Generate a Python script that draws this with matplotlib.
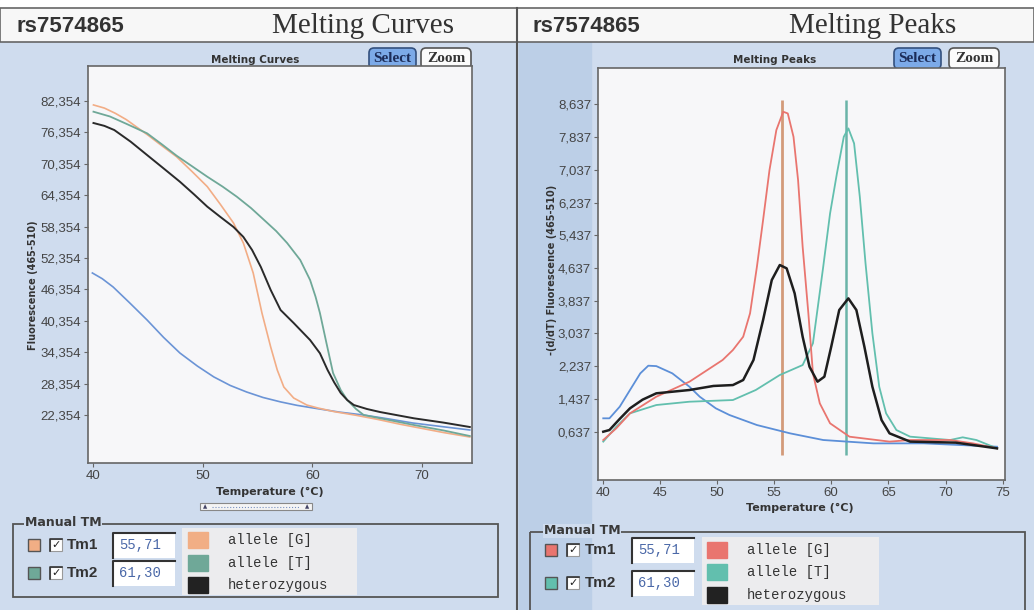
import matplotlib.pyplot as plt
from matplotlib.patches import Rectangle, FancyBboxPatch

W, H = 1034, 610

# ---- melting curves (left) ----
g_t = [40.0, 41.0, 42.0, 43.0, 44.0, 45.0, 46.0, 47.6, 49.0, 50.4, 51.6, 52.8, 53.7, 54.6, 55.4, 56.2, 56.8, 57.4, 58.3, 59.5, 60.5, 62.0, 64.0, 66.0, 68.0, 70.0, 72.0, 74.4]
g_v = [81600, 81000, 80000, 78800, 77300, 75800, 74200, 71700, 68900, 66000, 62600, 59040, 55220, 49490, 41840, 35340, 30950, 27700, 25600, 24260, 23700, 23000, 22300, 21500, 20600, 19800, 19000, 18150]

t_t = [40.0, 41.5, 43.0, 44.9, 46.3, 47.6, 49.0, 50.4, 51.8, 53.1, 54.4, 55.6, 56.7, 57.7, 58.9, 59.8, 60.3, 60.7, 61.3, 61.9, 62.6, 63.2, 64.0, 64.7, 67.0, 69.3, 72.0, 74.4]
t_v = [80310, 79400, 78000, 76180, 74000, 71900, 69900, 67890, 66000, 64070, 61900, 59610, 57500, 55220, 51970, 48150, 44950, 41840, 36060, 30380, 27130, 25220, 23500, 22354, 21400, 20440, 19400, 18340]

het_t = [40.0, 41.0, 41.9, 43.4, 44.9, 46.4, 47.9, 49.2, 50.4, 51.6, 52.8, 53.7, 54.5, 55.3, 56.2, 57.1, 58.3, 59.8, 60.7, 61.4, 62.0, 62.6, 63.2, 63.8, 65.0, 66.2, 69.3, 72.0, 74.4]
het_v = [78150, 77600, 76810, 74580, 72030, 69490, 66930, 64500, 62170, 60200, 58280, 56380, 53880, 50630, 46240, 42420, 39930, 36680, 34150, 30950, 28600, 26560, 25200, 24260, 23500, 22920, 21720, 20900, 20060]

blank_t = [39.9, 40.8, 41.8, 43.3, 44.9, 46.4, 47.9, 49.5, 51.0, 52.5, 54.0, 55.5, 57.1, 58.6, 60.1, 62.5, 64.7, 67.0, 69.2, 72.0, 74.4]
blank_v = [49490, 48400, 46810, 43800, 40510, 37200, 34200, 31700, 29630, 28000, 26750, 25700, 24860, 24200, 23690, 22900, 22350, 21600, 20820, 20100, 19490]

curve_yticks = [22354 + 6000 * k for k in range(11)]
curve_xticks = [40, 50, 60, 70]

# ---- melting peaks (right) ----
pg_t = [40.06, 41.2, 42.4, 44.7, 47.6, 50.5, 51.4, 52.3, 52.9, 53.5, 54.04, 54.6, 55.2, 55.8, 56.2, 56.7, 57.1, 57.5, 58.0, 58.4, 59.0, 59.9, 61.6, 65.1, 66.9, 70.4, 72.4, 74.5]
pg_v = [434, 720, 1086, 1492, 1859, 2389, 2633, 2958, 3530, 4668, 5809, 7030, 8007, 8455, 8414, 7844, 6786, 5157, 3530, 2063, 1330, 842, 515, 395, 434, 434, 352, 230]

pt_t = [40.06, 41.2, 42.4, 44.7, 47.6, 51.4, 53.4, 55.5, 57.5, 58.4, 59.3, 59.9, 60.5, 61.1, 61.5, 62.0, 62.5, 63.0, 63.6, 64.2, 64.8, 65.7, 66.9, 70.4, 71.5, 72.7, 74.5]
pt_v = [395, 759, 1086, 1289, 1370, 1411, 1656, 2022, 2266, 2797, 4668, 5972, 6950, 7844, 8048, 7682, 6378, 4751, 3041, 1736, 1086, 678, 516, 434, 500, 434, 230]

phet_t = [40.06, 40.6, 41.5, 42.4, 43.5, 44.7, 47.6, 49.7, 51.4, 52.3, 53.2, 54.04, 54.8, 55.5, 56.1, 56.8, 57.5, 58.1, 58.8, 59.4, 60.0, 60.7, 61.5, 62.2, 62.9, 63.6, 64.4, 65.1, 66.9, 70.9, 74.5]
phet_v = [637, 678, 950, 1209, 1420, 1575, 1656, 1755, 1777, 1900, 2389, 3366, 4343, 4710, 4629, 4018, 2958, 2225, 1859, 1981, 2714, 3610, 3895, 3610, 2714, 1736, 923, 597, 395, 370, 230]

pblank_t = [40.06, 40.6, 41.5, 42.4, 43.3, 44.0, 44.7, 46.1, 47.6, 48.5, 49.9, 51.1, 53.5, 56.4, 59.3, 63.7, 68.1, 74.5]
pblank_v = [964, 964, 1248, 1656, 2063, 2250, 2240, 2063, 1736, 1492, 1209, 1045, 800, 597, 434, 352, 352, 270]

tm_values = [55.71, 61.30]
tm_labels = ['55,71', '61,30']
peak_yticks = [637 + 800 * k for k in range(11)]
peak_xticks = [40, 45, 50, 55, 60, 65, 70, 75]

legend_names = ['allele [G]', 'allele [T]', 'heterozygous']

fig = plt.figure(figsize=(W / 100, H / 100), dpi=100)

# background / widget layer in pixel coordinates
bg = fig.add_axes([0, 0, 1, 1])
bg.set_xlim(0, W)
bg.set_ylim(H, 0)
bg.axis('off')
bg.add_patch(Rectangle((0, 0), W, H, color='#cfdcee'))
bg.add_patch(Rectangle((519, 42), 72, 568, color='#bccfe7'))
bg.add_patch(Rectangle((0, 0), W, 8, color='white'))
bg.add_patch(Rectangle((0, 8), W, 34, facecolor='#f7f7f7', edgecolor='#666', lw=1.2))
bg.plot([517, 517], [8, 610], color='#555', lw=1.5)

for x0 in (17, 533):
    bg.text(x0, 27, 'rs7574865', fontsize=16, fontweight='bold', family='Liberation Sans',
            color='#333', va='center')
bg.text(272, 26, 'Melting Curves', fontsize=21, family='Liberation Serif', color='#333', va='center')
bg.text(789, 26, 'Melting Peaks', fontsize=21, family='Liberation Serif', color='#333', va='center')

bg.text(255, 60, 'Melting Curves', fontsize=7.5, fontweight='bold', color='#333', ha='center', va='center')
bg.text(775, 60, 'Melting Peaks', fontsize=7.5, fontweight='bold', color='#333', ha='center', va='center')

for sx, zx in [(369, 421), (894, 949)]:
    bg.add_patch(FancyBboxPatch((sx, 48), 47, 21, boxstyle='round,pad=0,rounding_size=5',
                                facecolor='#7caae8', edgecolor='#33507e', lw=1.2))
    bg.text(sx + 23.5, 58.5, 'Select', fontsize=11, fontweight='bold', family='Liberation Serif',
            color='#1c2c58', ha='center', va='center')
    bg.add_patch(FancyBboxPatch((zx, 48), 50, 21, boxstyle='round,pad=0,rounding_size=5',
                                facecolor='#fbfbfb', edgecolor='#555', lw=1.2))
    bg.text(zx + 25, 58.5, 'Zoom', fontsize=11, fontweight='bold', family='Liberation Serif',
            color='#333', ha='center', va='center')

# ---- left plot ----
ax1 = fig.add_axes([88 / W, 1 - 463 / H, (472 - 88) / W, (463 - 66) / H])
ax1.set_facecolor('#f7f7f9')
ax1.plot(blank_t, blank_v, color='#6b94d6', lw=1.2)
ax1.plot(g_t, g_v, color='#f2ad86', lw=1.2)
ax1.plot(t_t, t_v, color='#6fa898', lw=1.3)
ax1.plot(het_t, het_v, color='#2a2a2a', lw=1.4)
ax1.set_xlim(39.5, 74.6)
ax1.set_ylim(13182, 89042)
ax1.set_xticks(curve_xticks)
ax1.set_yticks(curve_yticks)
ax1.set_yticklabels([f'{v // 1000},{v % 1000:03d}' for v in curve_yticks])

# ---- right plot ----
ax2 = fig.add_axes([598 / W, 1 - 480 / H, (1005 - 598) / W, (480 - 68) / H])
ax2.set_facecolor('#f7f7f9')
ax2.vlines(tm_values[0], 68, 8740, color='#d39a7a', lw=2)
ax2.vlines(tm_values[1], 68, 8740, color='#6ab4a8', lw=1.8)
ax2.plot(pblank_t, pblank_v, color='#5c8fd8', lw=1.3)
ax2.plot(pt_t, pt_v, color='#62bfae', lw=1.3)
ax2.plot(pg_t, pg_v, color='#e9756f', lw=1.3)
ax2.plot(phet_t, phet_v, color='#1e1e1e', lw=1.8)
ax2.set_xlim(39.6, 75.2)
ax2.set_ylim(-543, 9524)
ax2.set_xticks(peak_xticks)
ax2.set_yticks(peak_yticks)
ax2.set_yticklabels([f'{v // 1000},{v % 1000:03d}' for v in peak_yticks])

for ax in (ax1, ax2):
    for s in ax.spines.values():
        s.set_color('#666')
        s.set_linewidth(1.2)
    ax.tick_params(length=3, color='#666', labelsize=9.5, labelcolor='#444', pad=2)
    for lab in ax.get_xticklabels() + ax.get_yticklabels():
        lab.set_family('Liberation Sans')

bg.text(33, 285, 'Fluorescence (465-510)', rotation=90, fontsize=7, fontweight='bold',
        color='#333', ha='center', va='center')
bg.text(552, 270, '-(d/dT) Fluorescence (465-510)', rotation=90, fontsize=7, fontweight='bold',
        color='#333', ha='center', va='center')
bg.text(270, 492, 'Temperature (°C)', fontsize=8, fontweight='bold', color='#333', ha='center', va='center')
bg.text(800, 508, 'Temperature (°C)', fontsize=8, fontweight='bold', color='#333', ha='center', va='center')

# little scroller under the left chart
bg.add_patch(Rectangle((200, 503), 112, 7, facecolor='#f4f4f4', edgecolor='#888', lw=0.8))
bg.plot([212, 300], [506.5, 506.5], color='#7790c0', lw=0.8, ls=':')
bg.text(205, 506.5, '▲', fontsize=4, color='#446', ha='center', va='center')
bg.text(307, 506.5, '▲', fontsize=4, color='#446', ha='center', va='center')

# ---- Manual TM boxes ----
left_cols = ['#f1ae85', '#6fa898', '#222222']
right_cols = ['#e9756f', '#62bfae', '#222222']
panels = [
    dict(box=(13, 524, 485, 73), lab=(25, 523), sq=28, cb=50, tm=67, fld=113, rows=[545, 573],
         leg=(182, 528, 175, 67), sw=188, txt=228, lrows=[540, 563, 585], cols=left_cols),
    dict(box=(530, 532, 495, 82), lab=(544, 531), sq=545, cb=567, tm=585, fld=632, rows=[550, 583],
         leg=(702, 537, 177, 68), sw=707, txt=747, lrows=[550, 572, 595], cols=right_cols),
]
for p in panels:
    bx, by, bw, bh = p['box']
    bg.add_patch(Rectangle((bx, by), bw, bh, fill=False, edgecolor='#555', lw=1.3))
    bg.text(p['lab'][0], p['lab'][1], 'Manual TM', fontsize=9, fontweight='bold', color='#3a3a3a',
            va='center', bbox=dict(facecolor='#cfdcee', edgecolor='none', pad=0.5))
    for i, yc in enumerate(p['rows']):
        bg.add_patch(Rectangle((p['sq'], yc - 6), 12, 12, facecolor=p['cols'][i], edgecolor='#555', lw=1))
        bg.add_patch(Rectangle((p['cb'], yc - 6), 12, 12, facecolor='white', edgecolor='#999', lw=0.8))
        bg.plot([p['cb'], p['cb'], p['cb'] + 12], [yc + 6, yc - 6, yc - 6], color='#333', lw=1.2)
        bg.text(p['cb'] + 6.5, yc, '✓', fontsize=8, fontweight='bold', color='#222', ha='center', va='center')
        bg.text(p['tm'], yc, f'Tm{i + 1}', fontsize=11, fontweight='bold', family='Liberation Sans',
                color='#333', va='center')
        bg.add_patch(Rectangle((p['fld'], yc - 12), 62, 25, facecolor='white', edgecolor='none'))
        bg.plot([p['fld'], p['fld'], p['fld'] + 62], [yc + 13, yc - 12, yc - 12], color='#333', lw=1.5)
        bg.text(p['fld'] + 6, yc, tm_labels[i], fontsize=10, family='Liberation Mono', color='#4a68a8',
                va='center')
    lx, ly, lw_, lh = p['leg']
    bg.add_patch(Rectangle((lx, ly), lw_, lh, facecolor='#ececee', edgecolor='none'))
    for i, yc in enumerate(p['lrows']):
        bg.add_patch(Rectangle((p['sw'], yc - 8), 20, 16, color=p['cols'][i]))
        bg.text(p['txt'], yc, legend_names[i], fontsize=10, family='Liberation Mono', color='#333',
                va='center')

fig.savefig('out.png', dpi=100)
